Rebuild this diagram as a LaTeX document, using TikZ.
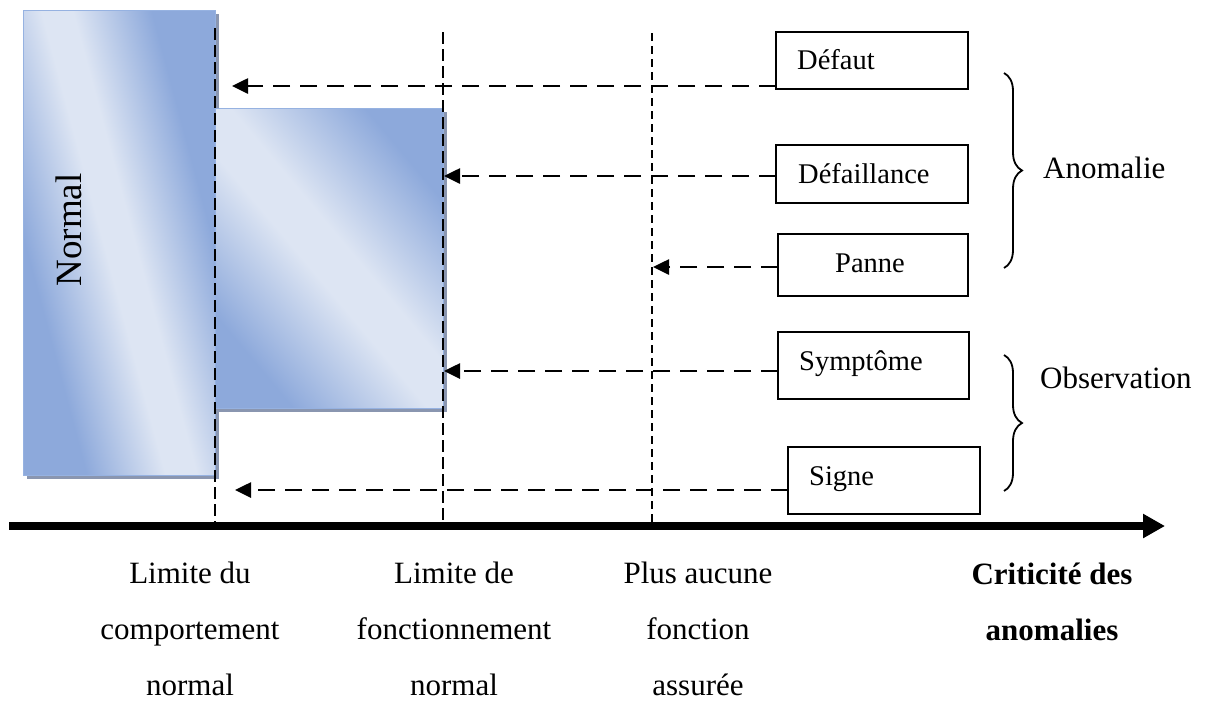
\documentclass[tikz,border=0pt]{standalone}
\usepackage{fontspec}
\setmainfont{Liberation Serif}
\usetikzlibrary{arrows.meta,decorations.pathreplacing,shadows,calc}
\definecolor{blueL}{RGB}{221,229,243}
\definecolor{blueD}{RGB}{141,169,219}
\definecolor{blueEdge}{RGB}{150,178,225}
\definecolor{shadowgray}{RGB}{138,150,176}
% dark corners, light band through the middle
\pgfdeclarehorizontalshading{panelshade}{100bp}{%
  color(0bp)=(blueD); color(41.5bp)=(blueD); color(48.6bp)=(blueL);
  color(51.4bp)=(blueL); color(58.5bp)=(blueD); color(100bp)=(blueD)}
\begin{document}
\begin{tikzpicture}[x=1pt,y=-1pt,
  panel/.style={draw=blueEdge, line width=0.8pt, inner sep=0pt, outer sep=0pt,
    anchor=north west, fill=blueL,
    general shadow={fill=shadowgray, shadow xshift=4pt, shadow yshift=-4pt}},
  panelshading/.style 2 args={path picture={
    \shade[shading=panelshade, shading angle=#1]
      ([shift={(-#2,-#2)}]path picture bounding box.center) rectangle
      ([shift={(#2,#2)}]path picture bounding box.center);}},
  limit/.style={line width=2.4pt, dash pattern=on 12pt off 5pt},
  limitfine/.style={line width=1.6pt, dash pattern=on 8pt off 5pt},
  flow/.style={line width=2.6pt, dash pattern=on 17pt off 10pt,
    -{Triangle[length=16pt,width=15pt]}},
  axis/.style={line width=8.5pt, -{Triangle[length=22pt,width=23pt]}},
  box/.style={draw, line width=1.4pt, inner sep=0pt, outer sep=0pt, anchor=north west},
  boxtext/.style={anchor=base west, inner sep=0pt, font=\fontsize{28.5}{34}\selectfont},
  sidetext/.style={anchor=base west, inner sep=0pt, font=\fontsize{31}{37}\selectfont},
  limittext/.style={anchor=base, inner sep=0pt, align=center, font=\fontsize{31}{56}\selectfont},
  curly/.style={line width=1.8pt, decorate, decoration={brace, amplitude=18pt}}]

\useasboundingbox (0,0) rectangle (1213,702);

% shaded zones
\node[panel, panelshading={15}{270}, minimum width=192pt, minimum height=465pt] (normal) at (23,10) {};
\node[rotate=90, inner sep=0pt, font=\fontsize{37}{44}\selectfont] (normaltxt) at (69,230) {Normal};
\node[panel, panelshading={40}{366}, minimum width=228pt, minimum height=300pt] (fonct) at (215,108) {};

% limit lines
\coordinate (l1top) at (215,28);  \coordinate (l1bot) at (215,526);
\coordinate (l2top) at (443,32);  \coordinate (l2bot) at (443,526);
\coordinate (l3top) at (652,33);  \coordinate (l3bot) at (652,526);
\draw[limit] (l1top) -- (l1bot);
\draw[limit] (l2top) -- (l2bot);
\draw[limitfine] (l3top) -- (l3bot);

% criticality axis
\coordinate (axisstart) at (9,526);
\coordinate (axisend) at (1165,526);
\draw[axis] (axisstart) -- (axisend);

% anomaly boxes
\node[box, minimum width=192pt, minimum height=57pt] (defaut) at (776,32) {};
\node[box, minimum width=192pt, minimum height=58pt] (defaillance) at (776,145) {};
\node[box, minimum width=190pt, minimum height=62pt] (panne) at (778,234) {};
\node[box, minimum width=191pt, minimum height=67pt] (symptome) at (778,332) {};
\node[box, minimum width=192pt, minimum height=67pt] (signe) at (788,447) {};

\node[boxtext] (tdefaut) at (797,69) {Défaut};
\node[boxtext] (tdefaillance) at (798,183) {Défaillance};
\node[boxtext] (tpanne) at (835,272) {Panne};
\node[boxtext] (tsymptome) at (799,370) {Symptôme};
\node[boxtext] (tsigne) at (809,485) {Signe};

% arrow targets
\coordinate (adefaut) at (232,86);
\coordinate (adefaillance) at (444,176);
\coordinate (apanne) at (653,267);
\coordinate (asymptome) at (444,371);
\coordinate (asigne) at (235,490);

\draw[flow] (defaut.west |- adefaut) -- (adefaut);
\draw[flow] (defaillance.west |- adefaillance) -- (adefaillance);
\draw[flow] (panne.west |- apanne) -- (apanne);
\draw[flow] (symptome.west |- asymptome) -- (asymptome);
\draw[flow] (signe.west |- asigne) -- (asigne);

% groupings
\coordinate (b1top) at (1004,73);  \coordinate (b1bot) at (1004,268);
\coordinate (b2top) at (1004,355); \coordinate (b2bot) at (1004,491);
\draw[curly] (b1top) -- (b1bot);
\draw[curly] (b2top) -- (b2bot);
\node[sidetext] (anomalie) at (1043,178) {Anomalie};
\node[sidetext] (observation) at (1040,388) {Observation};

% axis labels (anchored on the last line)
\node[limittext] (lab1) at (190,695) {Limite du\\comportement\\normal};
\node[limittext] (lab2) at (454,695) {Limite de\\fonctionnement\\normal};
\node[limittext] (lab3) at (698,695) {Plus aucune\\fonction\\assurée};
\node[limittext, font=\fontsize{31}{56}\selectfont\bfseries] (lab4) at (1052,640) {Criticité des\\anomalies};
\end{tikzpicture}
\end{document}
